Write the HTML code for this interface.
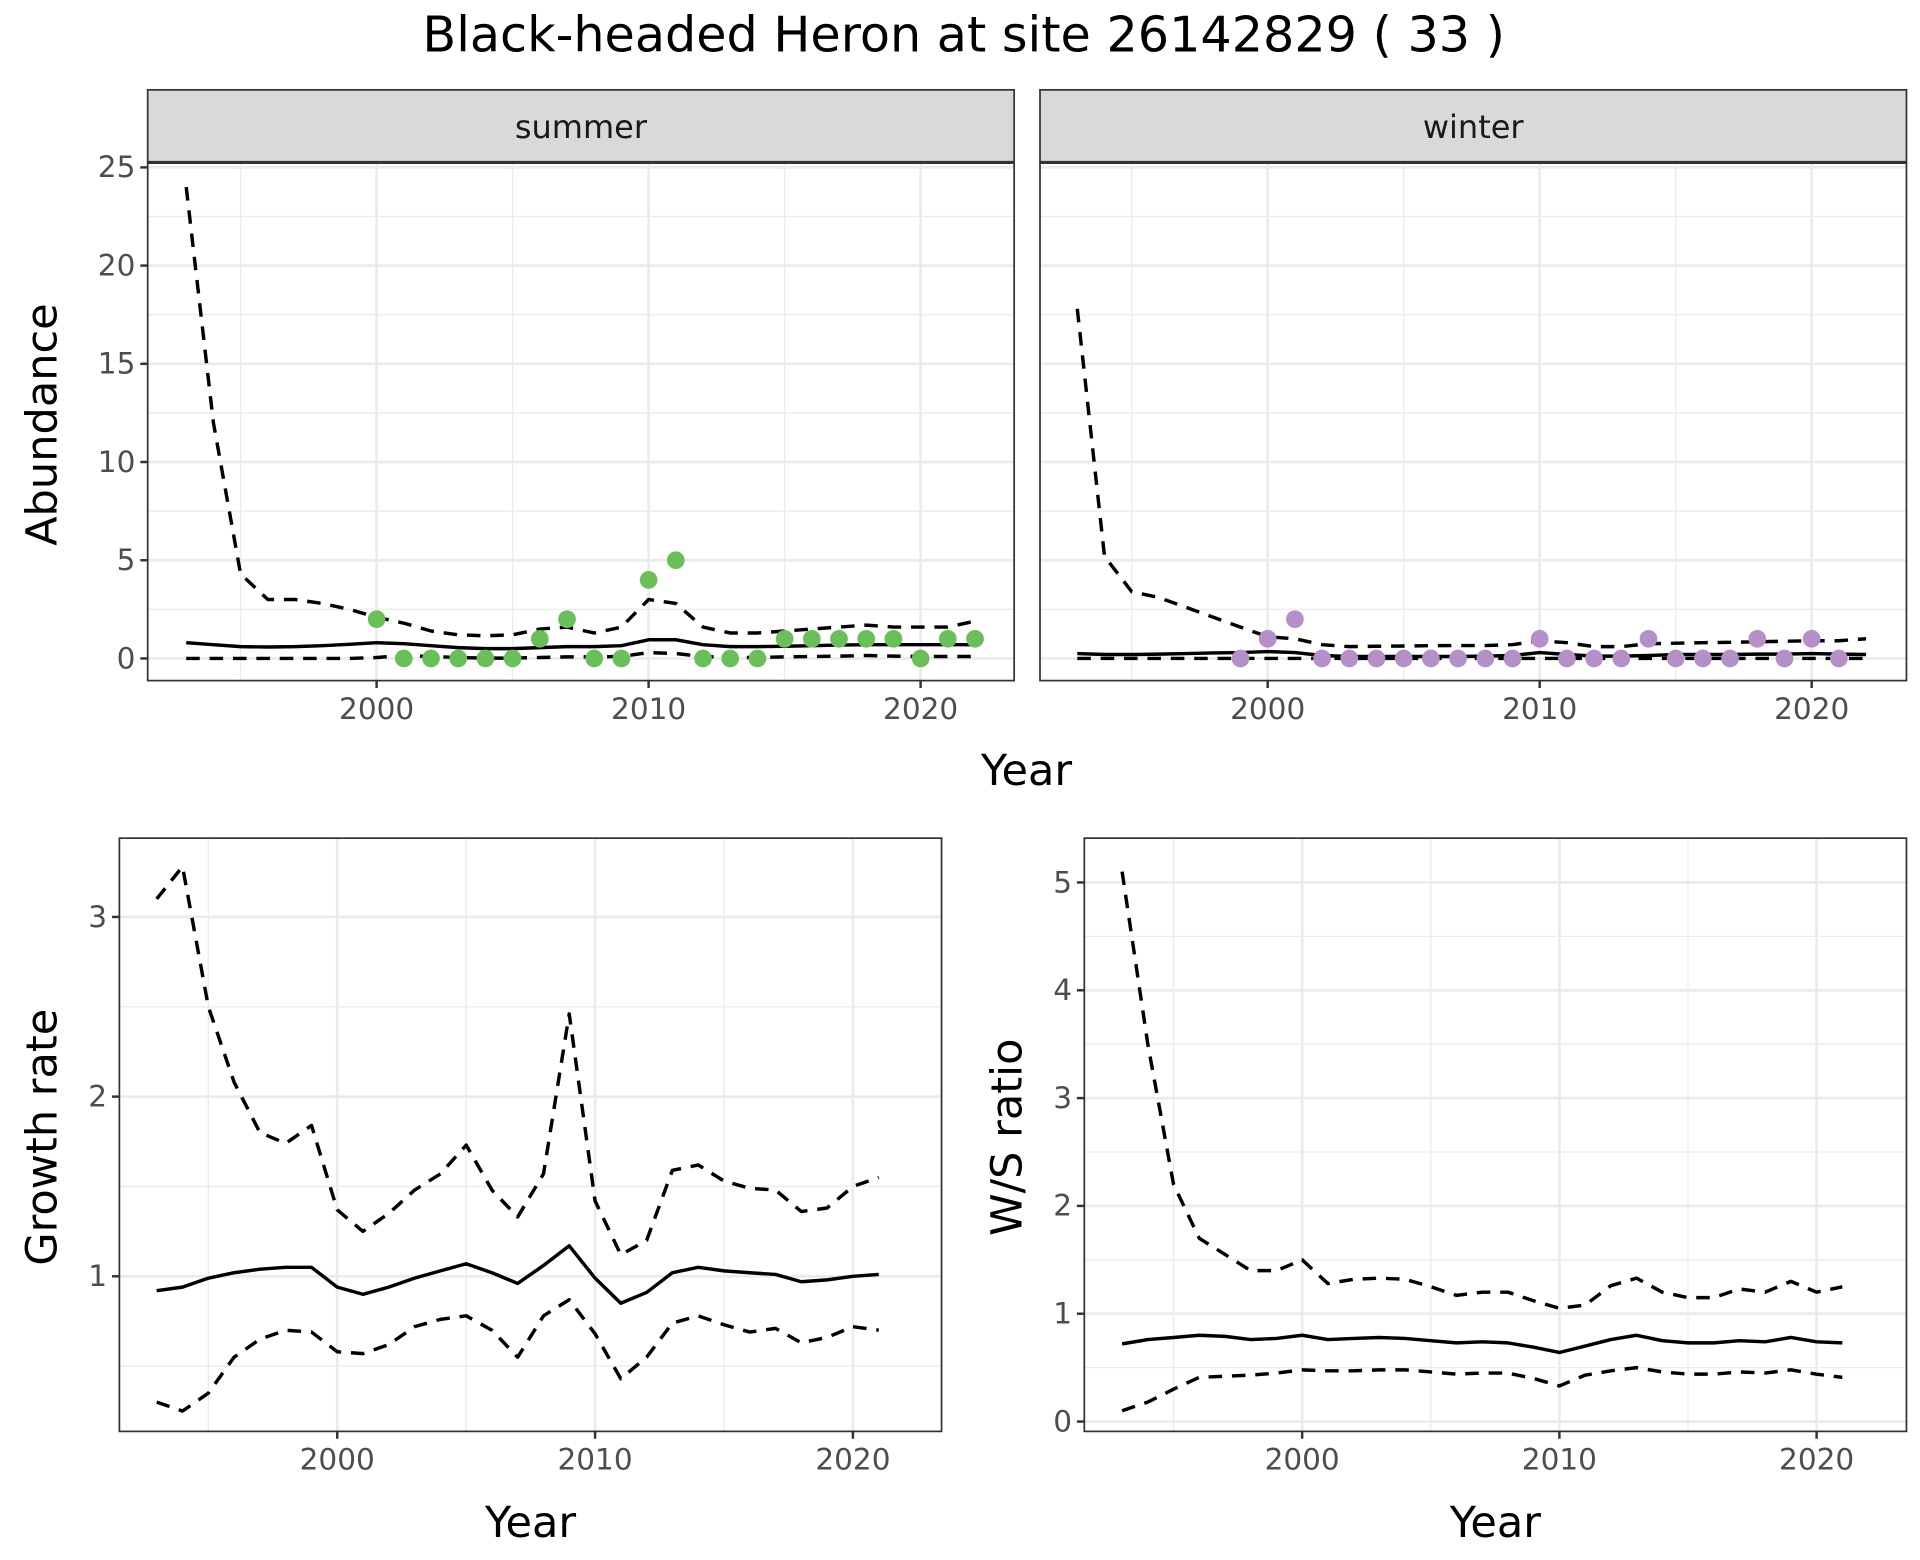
<!DOCTYPE html>
<html><head><meta charset="utf-8"><style>
html,body{margin:0;padding:0;background:#fff}
svg{display:block}
text{font-family:"DejaVu Sans","Liberation Sans",sans-serif}
</style></head><body>
<svg id="s" width="1920" height="1560" viewBox="0 0 1560 1267.5" xmlns="http://www.w3.org/2000/svg">
<rect width="1560" height="1268" fill="#fff"/>
<text x="783" y="42" font-size="40" text-anchor="middle" fill="#000">Black-headed Heron at site 26142829 ( 33 )</text>
<g id="g"></g>
<rect x="120" y="73" width="704" height="59" fill="#d9d9d9" stroke="#333" stroke-width="1.4"/>
<rect x="845" y="73" width="704" height="59" fill="#d9d9d9" stroke="#333" stroke-width="1.4"/>
<line x1="120" y1="132" x2="824" y2="132" stroke="#333" stroke-width="2.5"/>
<line x1="845" y1="132" x2="1549" y2="132" stroke="#333" stroke-width="2.5"/>
<text x="472" y="112" font-size="26" text-anchor="middle" fill="#1a1a1a">summer</text>
<text x="1197" y="112" font-size="26" text-anchor="middle" fill="#1a1a1a">winter</text>
<text x="834" y="638" font-size="35" text-anchor="middle">Year</text>
<text x="431" y="1249" font-size="35" text-anchor="middle">Year</text>
<text x="1215" y="1249" font-size="35" text-anchor="middle">Year</text>
<text transform="translate(46,345) rotate(-90)" font-size="35" text-anchor="middle">Abundance</text>
<text transform="translate(46,924) rotate(-90)" font-size="35" text-anchor="middle">Growth rate</text>
<text transform="translate(830,924) rotate(-90)" font-size="35" text-anchor="middle">W/S ratio</text>
</svg>
<script>
var NS="http://www.w3.org/2000/svg",G=document.getElementById('g');
function el(t,a,txt){var e=document.createElementNS(NS,t);for(var k in a)e.setAttribute(k,a[k]);if(txt!=null)e.textContent=txt;G.appendChild(e);return e;}
function panel(p){
 var X=function(y){return p.x0+(y-2000)*p.xs},Y=function(v){return p.y0-v*p.ys};
 el('rect',{x:p.l,y:p.t,width:p.r-p.l,height:p.b-p.t,fill:'#fff'});
 p.ym.forEach(function(v){el('line',{x1:p.l,x2:p.r,y1:Y(v),y2:Y(v),stroke:'#ebebeb','stroke-width':1.1})});
 [1995,2005,2015].forEach(function(v){el('line',{x1:X(v),x2:X(v),y1:p.t,y2:p.b,stroke:'#ebebeb','stroke-width':1.1})});
 p.yt.forEach(function(v){el('line',{x1:p.l,x2:p.r,y1:Y(v),y2:Y(v),stroke:'#ebebeb','stroke-width':2.2});
  if(p.lab){el('line',{x1:p.l-6,x2:p.l,y1:Y(v),y2:Y(v),stroke:'#333','stroke-width':2});
  el('text',{x:p.l-10,y:Y(v)+8,'font-size':24,'text-anchor':'end',fill:'#4d4d4d'},String(v));}});
 [2000,2010,2020].forEach(function(v){el('line',{x1:X(v),x2:X(v),y1:p.t,y2:p.b,stroke:'#ebebeb','stroke-width':2.2});
  el('line',{x1:X(v),x2:X(v),y1:p.b,y2:p.b+6,stroke:'#333','stroke-width':2});
  el('text',{x:X(v),y:p.b+31,'font-size':24,'text-anchor':'middle',fill:'#4d4d4d'},String(v));});
 function line(arr,d){var s='';arr.forEach(function(v,i){s+=(i?'L':'M')+X(p.start+i).toFixed(1)+','+Y(v).toFixed(1)});
  var a={d:s,fill:'none',stroke:'#000','stroke-width':2.8,'stroke-linejoin':'round'};if(d)a['stroke-dasharray']='11,8';el('path',a);}
 line(p.up,1);line(p.mean,0);line(p.lo,1);
 if(p.pts)p.pts.forEach(function(q){el('circle',{cx:X(q[0]),cy:Y(q[1]),r:7.2,fill:p.col})});
 el('rect',{x:p.l,y:p.t,width:p.r-p.l,height:p.b-p.t,fill:'none',stroke:'#333','stroke-width':1.4});
}
var sU=[24,12,4.3,3,3,2.8,2.5,2.1,1.8,1.4,1.2,1.15,1.2,1.5,1.6,1.3,1.6,3,2.8,1.6,1.3,1.3,1.4,1.5,1.6,1.7,1.6,1.6,1.6,1.9];
var sM=[0.8,0.7,0.6,0.58,0.6,0.65,0.72,0.8,0.75,0.65,0.55,0.5,0.5,0.55,0.6,0.6,0.65,0.95,0.95,0.7,0.6,0.6,0.62,0.65,0.68,0.7,0.7,0.7,0.7,0.7];
var sL=[0,0,0,0,0,0,0,0.05,0.15,0.1,0.05,0.02,0.02,0.05,0.08,0.08,0.1,0.3,0.25,0.1,0.05,0.05,0.08,0.1,0.12,0.15,0.12,0.1,0.1,0.1];
var sp=[[2000,2],[2001,0],[2002,0],[2003,0],[2004,0],[2005,0],[2006,1],[2007,2],[2008,0],[2009,0],[2010,4],[2011,5],[2012,0],[2013,0],[2014,0],[2015,1],[2016,1],[2017,1],[2018,1],[2019,1],[2020,0],[2021,1],[2022,1]];
var wU=[17.8,5.2,3.4,3.1,2.6,2.1,1.6,1.1,1.0,0.7,0.6,0.62,0.63,0.65,0.66,0.66,0.7,0.9,0.8,0.6,0.6,0.75,0.78,0.8,0.82,0.85,0.88,0.9,0.9,1.0];
var wM=[0.25,0.2,0.2,0.22,0.25,0.28,0.3,0.35,0.3,0.15,0.1,0.1,0.1,0.1,0.1,0.12,0.15,0.3,0.2,0.12,0.12,0.15,0.2,0.2,0.2,0.22,0.22,0.25,0.22,0.2];
var wL=[0,0,0,0,0,0,0,0,0,0,0,0,0,0,0,0,0,0,0,0,0,0,0,0,0,0,0,0,0,0];
var wp=[[1999,0],[2000,1],[2001,2],[2002,0],[2003,0],[2004,0],[2005,0],[2006,0],[2007,0],[2008,0],[2009,0],[2010,1],[2011,0],[2012,0],[2013,0],[2014,1],[2015,0],[2016,0],[2017,0],[2018,1],[2019,0],[2020,1],[2021,0]];
var ab={yt:[0,5,10,15,20,25],ym:[2.5,7.5,12.5,17.5,22.5],ys:15.96,y0:535,t:132,b:553,start:1993,xs:22.1};
panel(Object.assign({},ab,{l:120,r:824,x0:306,lab:1,up:sU,mean:sM,lo:sL,pts:sp,col:'#6abf5a'}));
panel(Object.assign({},ab,{l:845,r:1549,x0:1030,lab:0,up:wU,mean:wM,lo:wL,pts:wp,col:'#b58fc8'}));
panel({l:97,r:765,t:681,b:1163,x0:274,xs:20.95,y0:1183,ys:146,yt:[1,2,3],ym:[0.5,1.5,2.5],lab:1,start:1993,
 up:[3.1,3.28,2.5,2.08,1.8,1.74,1.84,1.37,1.25,1.35,1.48,1.57,1.73,1.48,1.33,1.57,2.46,1.42,1.12,1.2,1.59,1.62,1.53,1.49,1.48,1.36,1.38,1.5,1.55],
 mean:[0.92,0.94,0.99,1.02,1.04,1.05,1.05,0.94,0.9,0.94,0.99,1.03,1.07,1.02,0.96,1.06,1.17,0.99,0.85,0.91,1.02,1.05,1.03,1.02,1.01,0.97,0.98,1.0,1.01],
 lo:[0.3,0.25,0.35,0.55,0.65,0.7,0.69,0.58,0.57,0.62,0.72,0.76,0.78,0.7,0.55,0.78,0.87,0.68,0.43,0.55,0.74,0.78,0.73,0.69,0.71,0.63,0.66,0.72,0.7]});
panel({l:881,r:1549,t:681,b:1163,x0:1058,xs:20.9,y0:1155,ys:87.6,yt:[0,1,2,3,4,5],ym:[0.5,1.5,2.5,3.5,4.5],lab:1,start:1993,
 up:[5.1,3.5,2.2,1.7,1.55,1.4,1.4,1.5,1.28,1.32,1.33,1.32,1.25,1.17,1.2,1.2,1.12,1.05,1.08,1.26,1.33,1.2,1.15,1.15,1.23,1.2,1.3,1.2,1.25],
 mean:[0.72,0.76,0.78,0.8,0.79,0.76,0.77,0.8,0.76,0.77,0.78,0.77,0.75,0.73,0.74,0.73,0.69,0.64,0.7,0.76,0.8,0.75,0.73,0.73,0.75,0.74,0.78,0.74,0.73],
 lo:[0.1,0.18,0.3,0.41,0.42,0.43,0.45,0.48,0.47,0.47,0.48,0.48,0.46,0.44,0.45,0.45,0.4,0.33,0.43,0.47,0.5,0.46,0.44,0.44,0.46,0.45,0.48,0.44,0.41]});
</script>
</body></html>
